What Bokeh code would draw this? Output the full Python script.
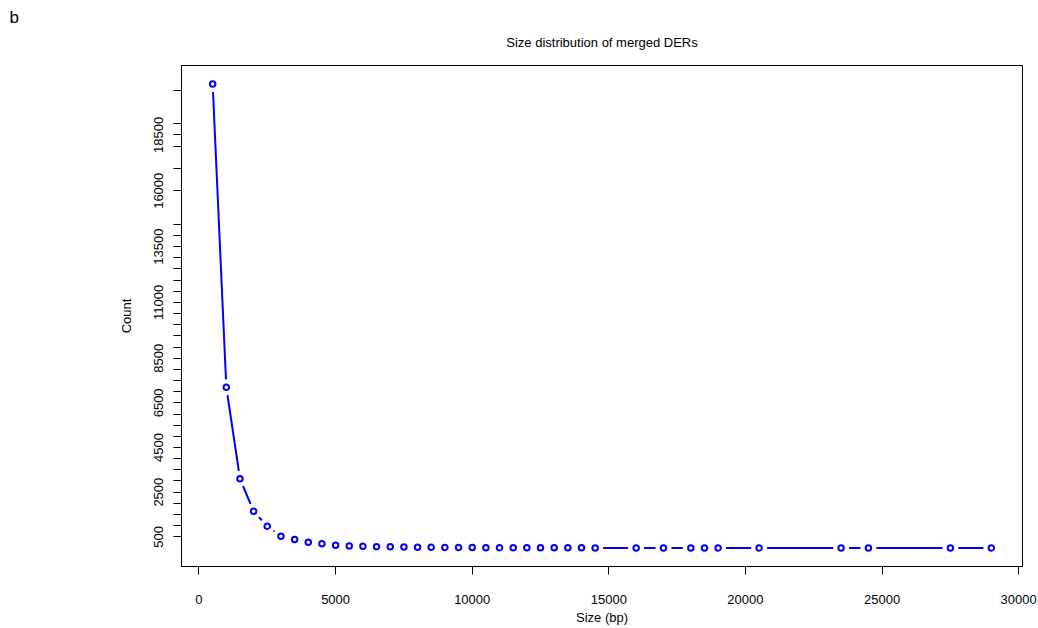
from bokeh.plotting import figure
from bokeh.models import Range1d, FixedTicker, LinearAxis, ColumnDataSource
from bokeh.embed import file_html
from bokeh.resources import INLINE

# ---- data ----
sizes = [500, 1000, 1500, 2000, 2500, 3000, 3500, 4000, 4500, 5000,
         5500, 6000, 6500, 7000, 7500, 8000, 8500, 9000, 9500, 10000,
         10500, 11000, 11500, 12000, 12500, 13000, 13500, 14000, 14500,
         16000, 17000, 18000, 18500, 19000, 20500, 23500, 24500, 27500, 29000]
counts = [20780, 7200, 3100, 1640, 975, 530, 380, 260, 190, 120,
          85, 75, 60, 50, 42, 35, 28, 24, 20, 17,
          14, 12, 10, 9, 8, 7, 6, 5, 4,
          3, 2, 2, 1, 1, 1, 1, 1, 1, 1]
x_ticks = [0, 5000, 10000, 15000, 20000, 25000, 30000]
y_labels_shown = [500, 2500, 4500, 6500, 8500, 11000, 13500, 16000, 18500]
chart_title = "Size distribution of merged DERs"
panel_tag = "b"

FONT = "Liberation Sans"
BLUE = "#0000FF"

xspan = max(sizes) - min(sizes)
yspan = max(counts) - min(counts)
x_range = Range1d(min(sizes) - 0.04 * xspan, max(sizes) + 0.04 * xspan)
y_range = Range1d(min(counts) - 0.04 * yspan, max(counts) + 0.04 * yspan)

p = figure(width=1038, height=628, x_range=x_range, y_range=y_range,
           output_backend="svg", toolbar_location=None,
           min_border_left=181, min_border_right=16,
           min_border_top=65, min_border_bottom=62,
           title=panel_tag)

p.background_fill_color = "white"
p.border_fill_color = "white"
p.outline_line_color = "black"
p.outline_line_width = 1
p.xgrid.visible = False
p.ygrid.visible = False

# panel tag "b" at the top-left corner (outermost title)
p.title.align = "left"
p.title.offset = -172
p.title.standoff = 10
p.title.text_font = FONT
p.title.text_font_size = "17px"
p.title.text_font_style = "normal"
p.title.text_color = "black"

# bottom x axis (configured before the extra top axis is added)
xa = p.below[0]
xa.ticker = FixedTicker(ticks=x_ticks)
xa.minor_tick_line_color = None
xa.major_tick_out = 8
xa.major_tick_in = 0
xa.major_label_standoff = 20
xa.major_label_text_font = FONT
xa.major_label_text_font_size = "13px"
xa.major_label_text_color = "black"
xa.axis_label = "Size (bp)"
xa.axis_label_text_font = FONT
xa.axis_label_text_font_size = "13px"
xa.axis_label_text_font_style = "normal"
xa.axis_label_text_color = "black"
xa.axis_label_standoff = 3
xa.axis_line_color = "black"
xa.major_tick_line_color = "black"

# chart title drawn as the label of a bare axis above the frame
top_axis = LinearAxis(ticker=FixedTicker(ticks=[]), axis_label=chart_title,
                      axis_line_color=None, major_tick_line_color=None,
                      minor_tick_line_color=None, major_tick_out=0,
                      major_tick_in=0, major_label_standoff=0,
                      axis_label_standoff=16,
                      axis_label_text_font=FONT, axis_label_text_font_size="13px",
                      axis_label_text_font_style="normal",
                      axis_label_text_color="black")
p.add_layout(top_axis, "above")

src = ColumnDataSource(dict(x=sizes, y=counts))
p.line("x", "y", source=src, line_color=BLUE, line_width=2)
# white masks emulate R's type="b" gaps around points
p.scatter("x", "y", source=src, size=16, fill_color="white", line_color=None)
p.scatter("x", "y", source=src, size=5.5, fill_color="white",
          line_color=BLUE, line_width=2)

# y axis: ticks at the size values (as in the original), labels thinned
ya = p.left[0]
ya.ticker = FixedTicker(ticks=sizes)
ya.major_label_overrides = {s: (str(s) if s in y_labels_shown else "") for s in sizes}
ya.minor_tick_line_color = None
ya.major_tick_out = 8
ya.major_tick_in = 0
ya.major_label_standoff = 10
ya.major_label_orientation = "vertical"
ya.major_label_text_font = FONT
ya.major_label_text_font_size = "13px"
ya.major_label_text_color = "black"
ya.axis_label = "Count"
ya.axis_label_text_font = FONT
ya.axis_label_text_font_size = "13px"
ya.axis_label_text_font_style = "normal"
ya.axis_label_text_color = "black"
ya.axis_label_standoff = 18
ya.axis_line_color = "black"
ya.major_tick_line_color = "black"

open("out.html", "w").write(file_html(p, INLINE))
